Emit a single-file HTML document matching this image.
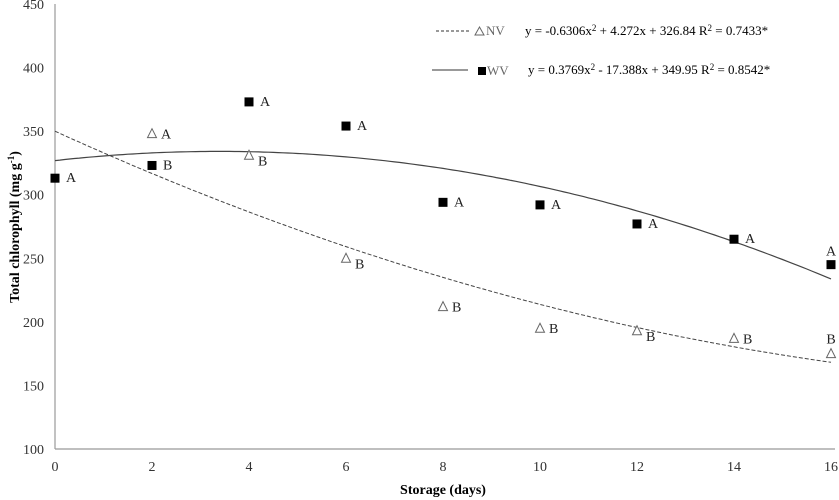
<!DOCTYPE html>
<html><head><meta charset="utf-8"><style>
body{margin:0;background:#fff}
svg{display:block;font-family:"Liberation Serif",serif}
</style></head><body>
<svg id="c" width="839" height="500"></svg>
<script>
const xTicks=[0,2,4,6,8,10,12,14,16];
const yTicks=[100,150,200,250,300,350,400,450];
const wvDays=[0,2,4,6,8,10,12,14,16];
const wvValues=[313,323,373,354,294,292,277,265,245];
const wvLetters=["A","B","A","A","A","A","A","A","A"];
const nvDays=[2,4,6,8,10,12,14,16];
const nvValues=[348,331,250,212,195,193,187,175];
const nvLetters=["A","B","B","B","B","B","B","B"];
const solidCoef=[-0.6306,4.272,326.84];
const dashedCoef=[0.3769,-17.388,349.95];
const ns="http://www.w3.org/2000/svg";
const svg=document.getElementById('c');
const X=v=>55+v*48.5;
const Y=v=>449-(v-100)*(445/350);
function mk(t,a,txt){const e=document.createElementNS(ns,t);for(const k in a)e.setAttribute(k,a[k]);if(txt!=null)e.textContent=txt;svg.appendChild(e);return e;}
let e;
e=mk('line',{x1:55,y1:Y(450),x2:55,y2:449,stroke:'#999','stroke-width':1.2});


e=mk('line',{x1:55,y1:449,x2:835,y2:449,stroke:'#999','stroke-width':1.2});


yTicks.forEach(v=>{e=mk('text',{x:44,y:Y(v)+5,'text-anchor':'end','font-size':14,fill:'#333'},v);

});
xTicks.forEach(v=>{e=mk('text',{x:X(v),y:471,'text-anchor':'middle','font-size':14,fill:'#333'},v);

});
e=mk('text',{x:443,y:494,'text-anchor':'middle','font-size':14,'font-weight':'bold'},'Storage (days)');


e=mk('text',{x:0,y:0,transform:'translate(19,227) rotate(-90)','text-anchor':'middle','font-size':14,'font-weight':'bold'},'');
e.innerHTML='Total chlorophyll (mg g<tspan dy="-5" font-size="9">-1</tspan><tspan dy="5">)</tspan>';


function curve(c){let d='';for(let i=0;i<=160;i++){const x=i/10;const y=c[0]*x*x+c[1]*x+c[2];d+=(i?'L':'M')+X(x).toFixed(1)+' '+Y(y).toFixed(1);}return d;}
e=mk('path',{d:curve(solidCoef),fill:'none',stroke:'#444','stroke-width':1.2});


e=mk('path',{d:curve(dashedCoef),fill:'none',stroke:'#444','stroke-width':1,'stroke-dasharray':'4 2'});


wvDays.forEach((d,i)=>{const x=X(d),y=Y(wvValues[i]);
e=mk('rect',{x:x-4.5,y:y-4.5,width:9,height:9,fill:'#000'});


const top=d===16;
e=mk('text',{x:top?x:x+11,y:top?y-9:y+4,'text-anchor':top?'middle':'start','font-size':14,fill:'#222'},wvLetters[i]);

});
const belowSet=[4,6,12];
nvDays.forEach((d,i)=>{const x=X(d),y=Y(nvValues[i]);
e=mk('polygon',{points:`${x-4.5},${y+4} ${x+4.5},${y+4} ${x},${y-5}`,fill:'#fff',stroke:'#666','stroke-width':1});


const top=d===16,below=belowSet.includes(d);
e=mk('text',{x:top?x:x+9,y:top?y-10:(below?y+10:y+5),'text-anchor':top?'middle':'start','font-size':14,fill:'#222'},nvLetters[i]);

});
</script>
<svg style="position:absolute;left:0;top:0" width="839" height="500">
<g font-family="Liberation Serif,serif" font-size="13">
<line x1="436" y1="31" x2="471" y2="31" stroke="#333" stroke-dasharray="3 2"/>
<polygon points="475,35 484,35 479.5,27" fill="#fff" stroke="#666"/>
<text x="486" y="35" fill="#666">NV</text>
<text x="525" y="35">y = -0.6306x<tspan dy="-4" font-size="9">2</tspan><tspan dy="4"> + 4.272x + 326.84  R</tspan><tspan dy="-4" font-size="9">2</tspan><tspan dy="4"> = 0.7433*</tspan></text>
<line x1="432" y1="70" x2="468" y2="70" stroke="#333"/>
<rect x="478" y="67" width="8" height="8" fill="#000"/>
<text x="487" y="75" fill="#666">WV</text>
<text x="528" y="74">y = 0.3769x<tspan dy="-4" font-size="9">2</tspan><tspan dy="4"> - 17.388x + 349.95  R</tspan><tspan dy="-4" font-size="9">2</tspan><tspan dy="4"> = 0.8542*</tspan></text>
</g></svg>
</body></html>
